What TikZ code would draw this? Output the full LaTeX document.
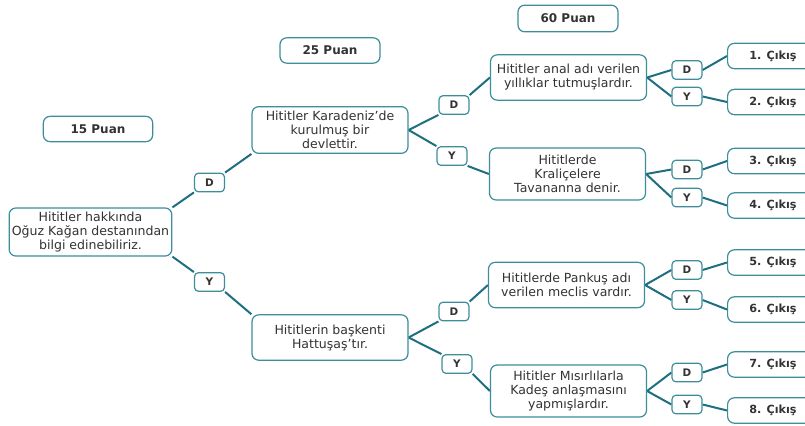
\documentclass[tikz,border=0pt]{standalone}
\usepackage{fontspec}
\setmainfont{DejaVu Sans}
\usetikzlibrary{backgrounds}

\definecolor{edgeteal}{HTML}{1E6F7F}
\definecolor{boxteal}{HTML}{3D8D9A}
\definecolor{inkgray}{HTML}{333333}

\begin{document}
\begin{tikzpicture}
  [x=7.5pt,y=-7.5pt,
   every node/.style={draw=boxteal,line width=0.9pt,rounded corners=5pt,fill=white,
     text=inkgray,font=\fontsize{9.4}{10.5}\selectfont,align=center,inner sep=1pt},
   puan/.style={minimum width=75pt,minimum height=19pt,font=\fontsize{9}{10}\selectfont\bfseries},
   soru/.style={minimum width=117pt,minimum height=35pt},
   dy/.style={minimum width=22.5pt,minimum height=14pt,rounded corners=3pt,
     font=\fontsize{7.8}{9}\selectfont\bfseries},
   cikis/.style={anchor=west,minimum width=68pt,minimum height=19pt,
     font=\fontsize{8.4}{9.6}\selectfont\bfseries},
   link/.style={draw=edgeteal,line width=1.5pt}]
  \useasboundingbox (0,0) rectangle (80.5,42.5);

  % puan labels
  \node[puan,minimum width=82pt] (p15) at (9.8,12.9)  {15 Puan};
  \node[puan] (p25) at (33.0,5.05) {25 Puan};
  \node[puan,minimum height=20pt] (p60) at (56.8,1.85) {60 Puan};

  % questions
  \node[soru,minimum width=122pt,minimum height=36pt] (root) at (9.05,23.2)
    {Hititler hakkında\\Oğuz Kağan destanından\\bilgi edinebiliriz.};
  \node[soru] (kara) at (33.0,13.0) {Hititler Karadeniz’de\\kurulmuş bir\\devlettir.};
  \node[soru,minimum height=34pt] (bask) at (33.0,33.75) {Hititlerin başkenti\\Hattuşaş’tır.};
  \node[soru,minimum height=34pt] (anal) at (56.85,7.75) {Hititler anal adı verilen\\yıllıklar tutmuşlardır.};
  \node[soru,minimum height=39pt] (kral) at (56.75,17.4) {Hititlerde\\Kraliçelere\\Tavananna denir.};
  \node[soru,minimum height=34pt] (pank) at (56.65,28.5) {Hititlerde Pankuş adı\\verilen meclis vardır.};
  \node[soru,minimum height=39pt] (misir) at (56.85,39.1) {Hititler Mısırlılarla\\Kadeş anlaşmasını\\yapmışlardır.};

  % D / Y
  \node[dy] (d1) at (20.95,18.25) {D};
  \node[dy] (y1) at (20.95,28.2)  {Y};
  \node[dy] (d2) at (45.4,10.5)   {D};
  \node[dy] (y2) at (45.2,15.6)   {Y};
  \node[dy] (d3) at (45.4,31.15)  {D};
  \node[dy] (y3) at (45.7,36.4)   {Y};
  \node[dy] (da) at (68.7,7.0)    {D};
  \node[dy] (ya) at (68.7,9.65)   {Y};
  \node[dy] (dk) at (68.7,16.95)  {D};
  \node[dy] (yk) at (68.7,19.75)  {Y};
  \node[dy] (dp) at (68.7,27.0)   {D};
  \node[dy] (yp) at (68.7,30.0)   {Y};
  \node[dy] (dm) at (68.7,37.25)  {D};
  \node[dy] (ym) at (68.7,40.45)  {Y};

  % outputs
  \node[cikis] (c1) at (72.7,5.6)   {1. Çıkış};
  \node[cikis] (c2) at (72.7,10.2)  {2. Çıkış};
  \node[cikis] (c3) at (72.7,16.1)  {3. Çıkış};
  \node[cikis] (c4) at (72.7,20.55) {4. Çıkış};
  \node[cikis] (c5) at (72.7,26.25) {5. Çıkış};
  \node[cikis] (c6) at (72.7,30.95) {6. Çıkış};
  \node[cikis] (c7) at (72.7,36.45) {7. Çıkış};
  \node[cikis] (c8) at (72.7,41.05) {8. Çıkış};

  \begin{scope}[on background layer]
    \foreach \from/\to in {root.north east/d1.south west,d1.north east/kara.south west,
        root.south east/y1.north west,y1.south east/bask.north west,
        kara.east/d2.south west,d2.north east/anal.west,
        kara.east/y2.north west,y2.south east/kral.west,
        bask.east/d3.south west,d3.north east/pank.west,
        bask.east/y3.north west,y3.south east/misir.west}
      \draw[link] (\from) -- (\to);
    \foreach \q/\dn/\yn/\ca/\cb in {anal/da/ya/c1/c2,kral/dk/yk/c3/c4,
        pank/dp/yp/c5/c6,misir/dm/ym/c7/c8}
    {
      \draw[link] (\q.east) -- (\dn.west);
      \draw[link] (\q.east) -- (\yn.west);
      \draw[link] (\dn.east) -- (\ca.west);
      \draw[link] (\yn.east) -- (\cb.west);
    }
  \end{scope}

\end{tikzpicture}
\end{document}
